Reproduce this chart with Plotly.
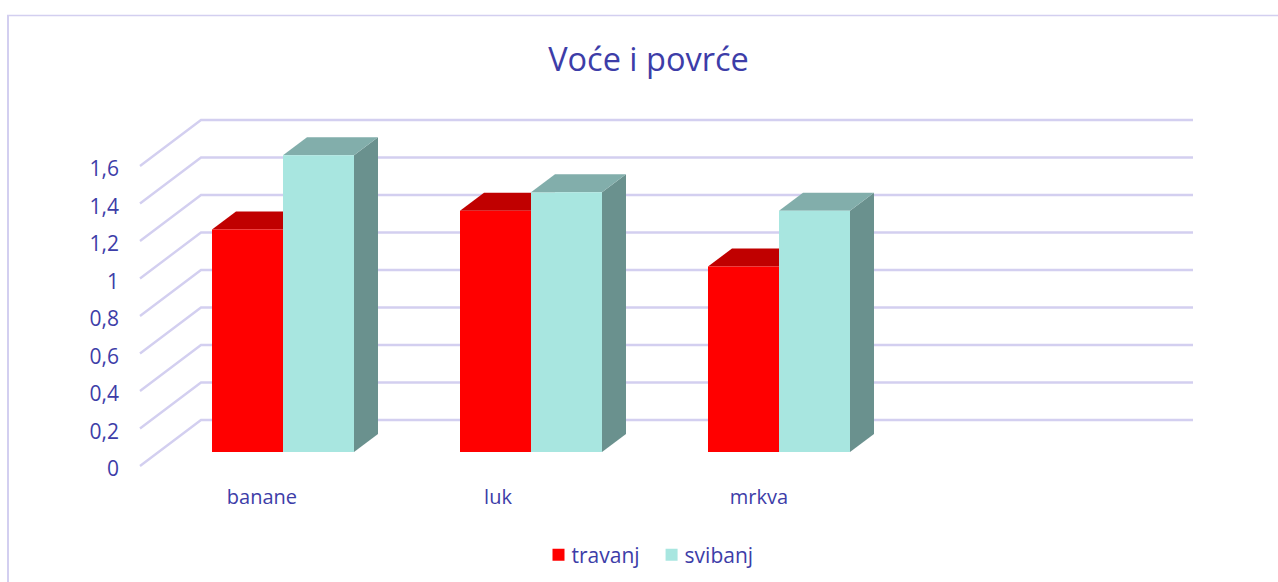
import plotly.graph_objects as go

title = "Voće i povrće"
categories = ["banane", "luk", "mrkva"]
series_names = ["travanj", "svibanj"]
travanj = [1.2, 1.3, 1.0]
svibanj = [1.6, 1.4, 1.3]
y_ticks = [0, 0.2, 0.4, 0.6, 0.8, 1, 1.2, 1.4, 1.6]
# tick label centres sit slightly left of each group's centre in the reference
label_offsets = [-0.085, -0.133, -0.081]

W, H = 1278, 582
INK = "#3d3da8"
GRID = "#d3cff0"
FONT = "Open Sans"

# scales
SLOT = 248.0
X0 = 283.0
WALL_U, WALL_Z = 187.5, 466.0
BAR_U, BAR_Z = 185.5, 452.0
BAR_W = 71.0 / SLOT
DX, DY = 24.0 / SLOT, 18.0 / BAR_U
WX0, WX1, WX2 = (140 - X0) / SLOT, (201 - X0) / SLOT, (1193 - X0) / SLOT
WDY = 46.0 / WALL_U

x_range = [-X0 / SLOT, (W - X0) / SLOT]
wall_range = [(WALL_Z - H) / WALL_U, WALL_Z / WALL_U]
bar_range = [(BAR_Z - H) / BAR_U, BAR_Z / BAR_U]

fig = go.Figure()

# wall and back grid lines
gx, gy = [], []
for v in y_ticks:
    gx += [WX0, WX1, WX2, None]
    gy += [v, v + WDY, v + WDY, None]
fig.add_trace(go.Scatter(x=gx, y=gy, mode="lines", line=dict(color=GRID, width=2.4),
                         showlegend=False, hoverinfo="skip", xaxis="x", yaxis="y"))


def poly(xs, ys, color):
    fig.add_trace(go.Scatter(x=xs + xs[:1], y=ys + ys[:1], mode="lines", fill="toself",
                             fillcolor=color, line=dict(width=0, color=color),
                             showlegend=False, hoverinfo="skip", xaxis="x", yaxis="y2"))


faces = [(travanj, -BAR_W, "#c00000", "#a00000"), (svibanj, 0.0, "#82aeab", "#6a918e")]
for vals, off, top_col, side_col in faces:
    for i, v in enumerate(vals):
        l, r = i + off, i + off + BAR_W
        poly([r, r + DX, r + DX, r], [0, DY, v + DY, v], side_col)
        poly([l, r, r + DX, l + DX], [v, v, v + DY, v + DY], top_col)

# front faces
idx = list(range(len(categories)))
fig.add_trace(go.Bar(x=idx, y=travanj, name=series_names[0], marker=dict(color="#ff0000", line=dict(width=0)),
                     xaxis="x2", yaxis="y3", hoverinfo="skip"))
fig.add_trace(go.Bar(x=idx, y=svibanj, name=series_names[1], marker=dict(color="#a8e6e0", line=dict(width=0)),
                     xaxis="x2", yaxis="y3", hoverinfo="skip"))

hidden = dict(visible=False, fixedrange=True, domain=[0, 1])
fig.update_layout(
    width=W, height=H,
    margin=dict(l=0, r=0, t=0, b=0, autoexpand=False),
    paper_bgcolor="white", plot_bgcolor="rgba(0,0,0,0)",
    separators=", ",
    font=dict(family=FONT, color=INK, size=20),
    barmode="group", bargap=1 - 2 * BAR_W, bargroupgap=0,
    title=dict(text=title, x=648.5 / W, xanchor="center", y=1 - 60 / H, yanchor="middle",
               font=dict(family=FONT, size=32.5, color=INK)),
    xaxis=dict(range=x_range, domain=[0, 1], anchor="free", position=1 - 483 / H,
               tickmode="array", tickvals=[i + o for i, o in zip(idx, label_offsets)],
               ticktext=categories, showgrid=False, zeroline=False, showline=False, ticks="",
               tickfont=dict(size=20, color=INK, family=FONT), fixedrange=True),
    yaxis=dict(range=wall_range, domain=[0, 1], anchor="free", position=119 / W,
               tickmode="array", tickvals=y_ticks, showgrid=False, zeroline=False, showline=False,
               ticks="", ticklabelshift=3, tickfont=dict(size=21, color=INK, family=FONT), fixedrange=True),
    yaxis2=dict(range=bar_range, overlaying="y", anchor="x", **hidden),
    xaxis2=dict(range=x_range, overlaying="x", anchor="y3", **hidden),
    yaxis3=dict(range=bar_range, overlaying="y", anchor="x2", **hidden),
    legend=dict(orientation="h", x=652 / W, xanchor="center", y=1 - 555 / H, yanchor="middle",
                font=dict(size=21, color=INK, family=FONT), bgcolor="rgba(0,0,0,0)",
                itemclick=False, itemdoubleclick=False),
    shapes=[
        dict(type="line", xref="paper", yref="paper", x0=8 / W, x1=8 / W, y0=0, y1=1 - 15 / H,
             line=dict(color=GRID, width=2)),
        dict(type="line", xref="paper", yref="paper", x0=7 / W, x1=1, y0=1 - 15.5 / H, y1=1 - 15.5 / H,
             line=dict(color=GRID, width=1.5)),
    ],
)
fig.write_html("out.html", config=dict(displayModeBar=False),
               post_script="document.body.style.margin='0';"
                           "document.querySelectorAll('.legendtext').forEach(function(t){"
                           "t.setAttribute('x', parseFloat(t.getAttribute('x'))-7);});")
